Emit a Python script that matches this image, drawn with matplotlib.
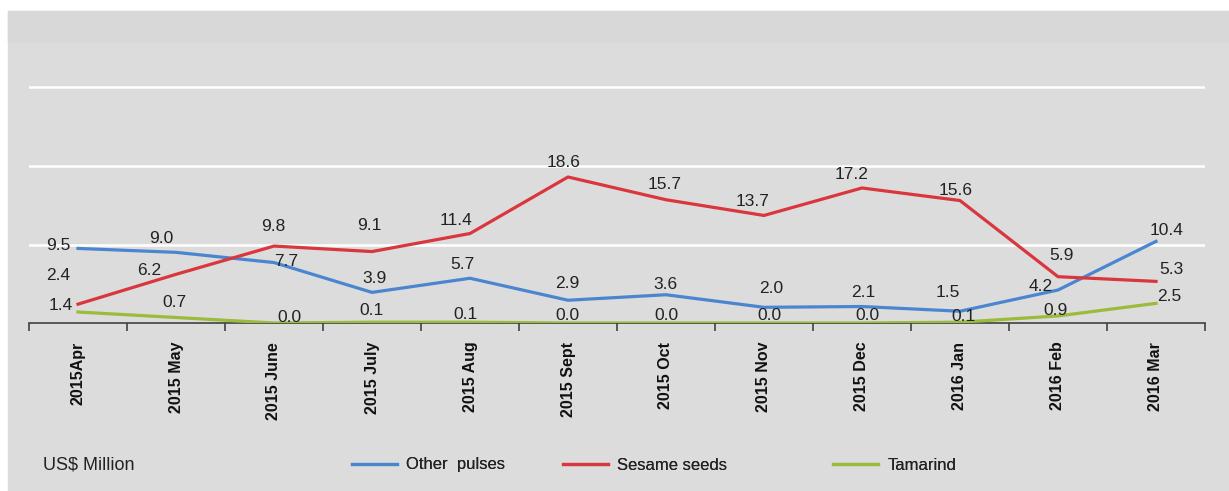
import matplotlib
matplotlib.use("Agg")
import matplotlib.pyplot as plt
from matplotlib.patches import Rectangle

plt.rcParams["font.family"] = ["Liberation Sans", "DejaVu Sans"]

months = ["2015Apr", "2015 May", "2015 June", "2015 July", "2015 Aug", "2015 Sept",
          "2015 Oct", "2015 Nov", "2015 Dec", "2016 Jan", "2016 Feb", "2016 Mar"]
other_pulses = [9.5, 9.0, 7.7, 3.9, 5.7, 2.9, 3.6, 2.0, 2.1, 1.5, 4.2, 10.4]
sesame_seeds = [2.4, 6.2, 9.8, 9.1, 11.4, 18.6, 15.7, 13.7, 17.2, 15.6, 5.9, 5.3]
tamarind = [1.4, 0.7, 0.0, 0.1, 0.1, 0.0, 0.0, 0.0, 0.0, 0.1, 0.9, 2.5]

# label offsets in pixels (dx, dy) copied from the original layout
off_blue = [(-20, 3), (-15, 14), (12, 1), (2, 14), (-8, 14), (-1, 17), (-1, 10), (7, 19), (1, 14), (-12, 19), (-17, 4), (11, 11)]
off_red = [(-20, 29), (-27, 4), (-1, 20), (-3, 26), (-14, 13), (-4, 14), (-1, 15), (-11, 14), (-10, 13), (-4, 10), (3, 21), (15, 12)]
off_green = [(-17, 7), (-2, 15), (15, 6), (0, 12), (-4, 8), (-1, 7), (0, 7), (5, 7), (5, 7), (3, 6), (-2, 5), (13, 7)]

W, H = 1229, 491
fig = plt.figure(figsize=(W / 100, H / 100), dpi=100, facecolor="white")
fig.patches.append(Rectangle((8 / W, 0), 1, 480 / H, transform=fig.transFigure, color="#dcdcdc", zorder=-10))
fig.patches.append(Rectangle((8 / W, 449 / H), 1, 31 / H, transform=fig.transFigure, color="#d8d8d8", zorder=-9))

ax = fig.add_axes([29 / W, 168 / H, 1176 / W, 314 / H])
ax.set_zorder(1)
ax.set_facecolor("none")
x = range(len(months))
series = [(other_pulses, "#4a86d0", "Other  pulses", off_blue),
          (sesame_seeds, "#d9363e", "Sesame seeds", off_red),
          (tamarind, "#9bbb3a", "Tamarind", off_green)]
handles = []
for vals, col, name, offs in series:
    ln, = ax.plot(x, vals, color=col, lw=2.3, label=name, zorder=3)
    handles.append(ln)
    for xi, v, (dx, dy) in zip(x, vals, offs):
        ax.annotate(f"{v:.1f}", (xi, v), xytext=(dx, dy), textcoords="offset pixels",
                    ha="center", va="center", fontsize=12.5, color="#222222", zorder=4)

ax.set_xlim(-0.5, len(months) - 0.5)
ax.set_ylim(0, 40)
ax.set_yticks([])
for g in [10, 20, 30]:
    ax.axhline(g, color="white", lw=1.8, zorder=1)
for s in ["top", "right", "left"]:
    ax.spines[s].set_visible(False)
ax.spines["bottom"].set_color("#404040")
ax.spines["bottom"].set_linewidth(1.2)
ax.set_xticks([i - 0.5 for i in range(len(months) + 1)])
ax.set_xticklabels([])
ax.tick_params(axis="x", which="major", length=6, width=1.2, color="#404040", direction="out")
ax.set_xticks(list(x), minor=True)
ax.set_xticklabels(months, minor=True, rotation=90, fontsize=11.5, fontweight="bold", color="#111111")
ax.tick_params(axis="x", which="minor", length=0, pad=13.5)

fig.text(43 / W, 1 - 465 / H, "US$ Million", ha="left", va="center", fontsize=13, color="#222222")
# one legend entry per box so the uneven spacing of the original can be kept
for h, left in zip(handles, [352, 563, 833]):
    leg = fig.legend(handles=[h], loc="center left", bbox_to_anchor=(left / W, 1 - 465 / H),
                     frameon=False, fontsize=12, handlelength=2.7, handletextpad=0.55,
                     borderpad=0, borderaxespad=0)
    plt.setp(leg.get_texts(), color="#222222")
    fig.add_artist(leg)

fig.savefig("out.png", dpi=100, facecolor=fig.get_facecolor())
